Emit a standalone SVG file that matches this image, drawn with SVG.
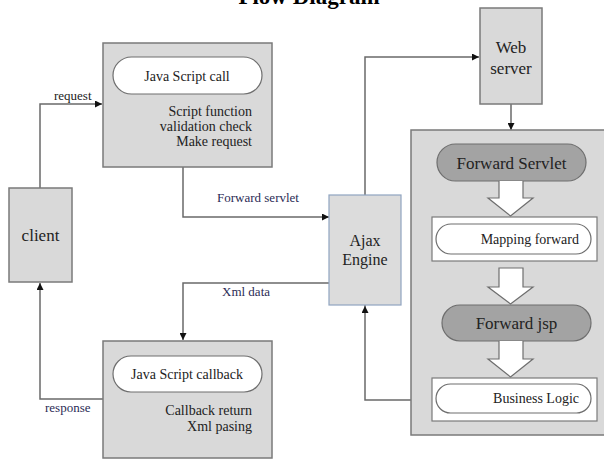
<svg xmlns="http://www.w3.org/2000/svg" width="604" height="460" viewBox="0 0 604 460">
  <style>
    text { font-family: "Liberation Serif", "Times New Roman", serif; fill: #222; }
    .title { font-size: 23px; font-weight: bold; fill: #000; }
    .box { fill: #d9d9d9; stroke: #7a7a7a; stroke-width: 1.5; }
    .ajax { fill: #dcdcdc; stroke: #8fa4c0; stroke-width: 1.2; }
    .pill { fill: #ffffff; stroke: #6e6e6e; stroke-width: 1.2; }
    .dark { fill: #a3a3a3; stroke: #6e6e6e; stroke-width: 1.2; }
    .frame { fill: #ffffff; stroke: #7a7a7a; stroke-width: 1.2; }
    .block { fill: #ffffff; stroke: #6e6e6e; stroke-width: 1.2; stroke-linejoin: miter; }
    .conn { fill: none; stroke: #6a6a6a; stroke-width: 1.5; }
    .lbl { font-size: 13px; fill: #2b2b55; }
    .body { font-size: 14px; }
    .big { font-size: 17px; }
    .mid { font-size: 16px; }
  </style>
  <defs>
    <marker id="arrow" viewBox="0 0 10 10" refX="10" refY="5" markerWidth="7" markerHeight="7" markerUnits="userSpaceOnUse" orient="auto">
      <path d="M0,0 L10,5 L0,10 z" fill="#111"/>
    </marker>
  </defs>

  <text class="title" x="309" y="4" text-anchor="middle">Flow Diagram</text>

  <!-- connectors -->
  <g id="connectors">
    <path class="conn" d="M40,188 V104 H102" marker-end="url(#arrow)"/>
    <path class="conn" d="M103,399 H40 V283" marker-end="url(#arrow)"/>
    <path class="conn" d="M183,167 V217 H329" marker-end="url(#arrow)"/>
    <path class="conn" d="M329,217 H365 V196" marker-end="url(#arrow)"/>
    <path class="conn" d="M365,196 V57 H479" marker-end="url(#arrow)"/>
    <path class="conn" d="M511,104 V130" marker-end="url(#arrow)"/>
    <path class="conn" d="M411,400 H365 V306" marker-end="url(#arrow)"/>
    <path class="conn" d="M365,306 V283 H330" marker-end="url(#arrow)"/>
    <path class="conn" d="M330,283 H183 V340" marker-end="url(#arrow)"/>
    <text class="lbl" x="54" y="100" style="fill:#222">request</text>
    <text class="lbl" x="45" y="412">response</text>
    <text class="lbl" x="217" y="202">Forward servlet</text>
    <text class="lbl" x="222" y="296">Xml data</text>
  </g>

  <g id="client">
    <rect class="box" x="9" y="188" width="63" height="94"/>
    <text class="big" x="40.5" y="241" text-anchor="middle">client</text>
  </g>

  <g id="js-call">
    <rect class="box" x="103" y="43" width="169" height="124"/>
    <rect class="pill" x="113" y="57" width="149" height="37" rx="18.5"/>
    <text class="body" x="187" y="81" text-anchor="middle" font-size="13">Java Script call</text>
    <text class="body" x="252" y="116" text-anchor="end">Script function</text>
    <text class="body" x="252" y="131" text-anchor="end">validation check</text>
    <text class="body" x="252" y="146" text-anchor="end">Make request</text>
  </g>

  <g id="js-callback">
    <rect class="box" x="103" y="341" width="169" height="117"/>
    <rect class="pill" x="113" y="356" width="149" height="36" rx="18"/>
    <text class="body" x="187" y="379" text-anchor="middle" font-size="13">Java Script callback</text>
    <text class="body" x="252" y="415" text-anchor="end">Callback return</text>
    <text class="body" x="252" y="431" text-anchor="end">Xml pasing</text>
  </g>

  <g id="ajax-engine">
    <rect class="ajax" x="329" y="195" width="72" height="110"/>
    <text class="mid" x="365" y="246" text-anchor="middle">Ajax</text>
    <text class="mid" x="365" y="265" text-anchor="middle">Engine</text>
  </g>

  <g id="web-server">
    <rect class="box" x="480" y="8" width="62" height="96"/>
    <text class="big" x="511" y="53" text-anchor="middle">Web</text>
    <text class="big" x="511" y="74" text-anchor="middle">server</text>
  </g>

  <g id="server-side">
    <rect class="box" x="411" y="130" width="200" height="305"/>
    <g id="forward-servlet">
      <rect class="dark" x="437" y="144" width="149" height="37" rx="18.5"/>
      <text class="big" x="511.5" y="169" text-anchor="middle">Forward Servlet</text>
    </g>
    <path class="block" d="M499,181 V198 H488 L510.5,216 L533,198 H523 V181"/>
    <g id="mapping-forward">
      <rect class="frame" x="432" y="217" width="165" height="44"/>
      <rect class="pill" x="436" y="224" width="155" height="30" rx="15"/>
      <text class="body" x="579" y="244" text-anchor="end" font-size="13.5">Mapping forward</text>
    </g>
    <path class="block" d="M499,268 V287 H488 L510.5,304 L533,287 H523 V268 Z"/>
    <g id="forward-jsp">
      <rect class="dark" x="442" y="305" width="149" height="36" rx="18"/>
      <text class="big" x="516.5" y="329" text-anchor="middle" font-size="18">Forward jsp</text>
    </g>
    <path class="block" d="M499,341 V359 H488 L510.5,377 L533,359 H523 V341"/>
    <g id="business-logic">
      <rect class="frame" x="432" y="378" width="165" height="43"/>
      <rect class="pill" x="436" y="384" width="155" height="29" rx="14.5"/>
      <text class="body" x="579" y="403" text-anchor="end" font-size="13.5">Business Logic</text>
    </g>
  </g>
</svg>
